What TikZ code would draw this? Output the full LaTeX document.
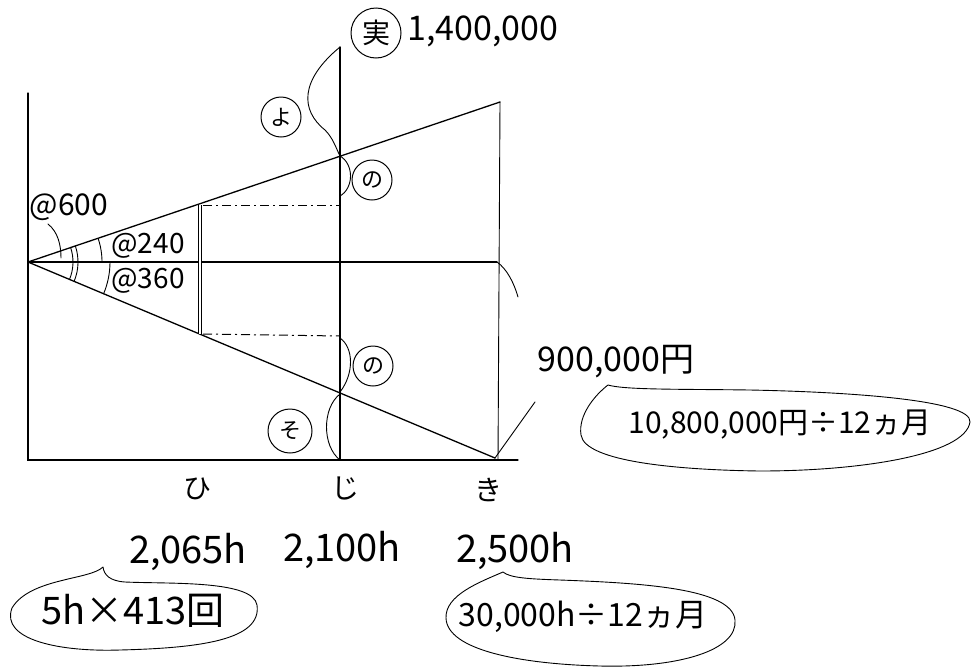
\documentclass[tikz,border=0pt]{standalone}
\usepackage{fontspec}
\setmainfont{Noto Sans CJK JP}
\begin{document}
\begin{tikzpicture}[x=1pt,y=-1pt,
  ln/.style={line width=1.3pt, line cap=round},
  thinln/.style={line width=0.9pt, line cap=round},
  dashdot/.style={line width=1pt, dash pattern=on 9pt off 4pt on 2pt off 4pt},
  circ/.style={circle, draw, line width=1pt, inner sep=0pt, minimum size=40pt, font=\fontsize{22}{24}\selectfont},
  hw/.style={inner sep=0pt, anchor=center},
  f28/.style={font=\fontsize{28}{32}\selectfont},
  f30/.style={font=\fontsize{30}{34}\selectfont},
  f32/.style={font=\fontsize{32}{36}\selectfont},
  f34/.style={font=\fontsize{34}{38}\selectfont},
  f38/.style={font=\fontsize{38}{42}\selectfont},
]
\useasboundingbox (0,0) rectangle (973,667);

% key points
\coordinate (O) at (28,262);
\coordinate (Ytop) at (28,93);
\coordinate (Obot) at (28,460);
\coordinate (Xend) at (518,460);
\coordinate (Ktop) at (500,102);
\coordinate (Kbot) at (498,460);
\coordinate (Kmid) at (497,262);
\coordinate (Kray) at (495,458);
\coordinate (Karc) at (518,297);
\coordinate (Jtop) at (340,47);
\coordinate (Jbot) at (340,460);
\coordinate (Ju) at (340,156);
\coordinate (Jud) at (340,196);
\coordinate (Jld) at (340,338);
\coordinate (Jl) at (340,392);
\coordinate (Hu) at (200,205);
\coordinate (Hl) at (200,334);
\coordinate (Dut) at (340,205);
\coordinate (Dlt) at (340,336);
\coordinate (Lead1) at (535,402);

% axes and lines
\draw[ln] (Ytop) -- (Obot) -- (Xend);
\draw[ln] (O) -- (Kmid);
\draw[ln] (O) -- (Ktop);
\draw[ln] (O) -- (Kray);
\draw[thinln] (Ktop) -- (Kbot);
\draw[ln] (Jtop) -- (Jbot);
\draw[line width=1pt, double, double distance=2pt] (Hu) -- (Hl);
\draw[dashdot] ([xshift=3pt]Hu) -- (Dut);
\draw[dashdot] ([xshift=3pt]Hl) -- (Dlt);
\draw[thinln] (Kmid) .. controls (507,269) and (514,283) .. (Karc);
\draw[thinln] (Kray) -- (Lead1);

% braces on the vertical line
\draw[thinln] (Jtop) .. controls (300,80) and (300,110) .. (325,130) .. controls (333,138) and (336,148) .. (Ju);
\draw[thinln] (Ju) .. controls (354,164) and (354,188) .. (Jud);
\draw[thinln] (Jld) .. controls (354,348) and (354,374) .. (Jl);
\draw[thinln] (340,394) .. controls (322,408) and (322,446) .. (Jbot);

% angle arcs
\draw[thinln] ([shift={(-18.7:45)}]O) arc[start angle=-18.7, end angle=22.8, radius=45];
\draw[thinln] ([shift={(-18.7:50)}]O) arc[start angle=-18.7, end angle=22.8, radius=50];
\draw[thinln] ([shift={(-18.7:74)}]O) arc[start angle=-18.7, end angle=0, radius=74];
\draw[thinln] ([shift={(0:82)}]O) arc[start angle=0, end angle=22.8, radius=82];

% labels
\node[circ, minimum size=50pt, font=\fontsize{28}{30}\selectfont] (jitsu) at (376,33) {実};
\node[hw, f34] (v14) at (483,31) {1,400,000};
\node[circ] (yo) at (281,117) {よ};
\node[circ] (no1) at (372,180) {の};
\node[circ] (no2) at (373,366) {の};
\node[circ, minimum size=44pt] (so) at (290,431) {そ};

\node[hw, f30] (a600) at (69,207) {@600};
\coordinate (a600tip) at (48,224);
\coordinate (a600end) at (61,258);
\draw[thinln] (a600tip) .. controls (58,232) and (61,245) .. (a600end);
\node[hw, f28] (a240) at (148,246) {@240};
\node[hw, f28] (a360) at (148,281) {@360};

\node[hw, f28] (hi) at (197,489) {ひ};
\node[hw, f28] (ji) at (345,488) {じ};
\node[hw, f28] (ki) at (488,490) {き};

\node[hw, f38] (h2065) at (188,552) {2,065h};
\node[hw, f38] (h2100) at (342,550) {2,100h};
\node[hw, f38] (h2500) at (515,551) {2,500h};

\node[hw, f34] (yen9) at (616,362) {900,000円};
\node[hw, f30] (calc1) at (780,425) {10,800,000円÷12ヵ月};
\node[hw, f38] (calc2) at (133,611) {5h×413回};
\node[hw, f32] (calc3) at (583,617) {30,000h÷12ヵ月};

% speech outlines
\draw[thinln] (608,385) .. controls (595,395) and (578,415) .. (581,435)
  .. controls (585,462) and (680,470) .. (760,471)
  .. controls (860,471) and (965,455) .. (970,422)
  .. controls (972,400) and (850,392) .. (750,390)
  .. controls (680,389) and (625,390) .. (608,385);
\draw[thinln] (103,567) .. controls (90,580) and (30,578) .. (12,608)
  .. controls (0,640) and (60,652) .. (120,650)
  .. controls (200,648) and (262,640) .. (257,605)
  .. controls (253,580) and (170,584) .. (125,582)
  .. controls (110,581) and (104,575) .. (103,567);
\draw[thinln] (503,572) .. controls (480,582) and (445,595) .. (446,618)
  .. controls (447,650) and (520,664) .. (600,666)
  .. controls (680,668) and (738,650) .. (735,620)
  .. controls (732,588) and (640,583) .. (560,580)
  .. controls (530,579) and (510,578) .. (503,572);
\end{tikzpicture}
\end{document}
